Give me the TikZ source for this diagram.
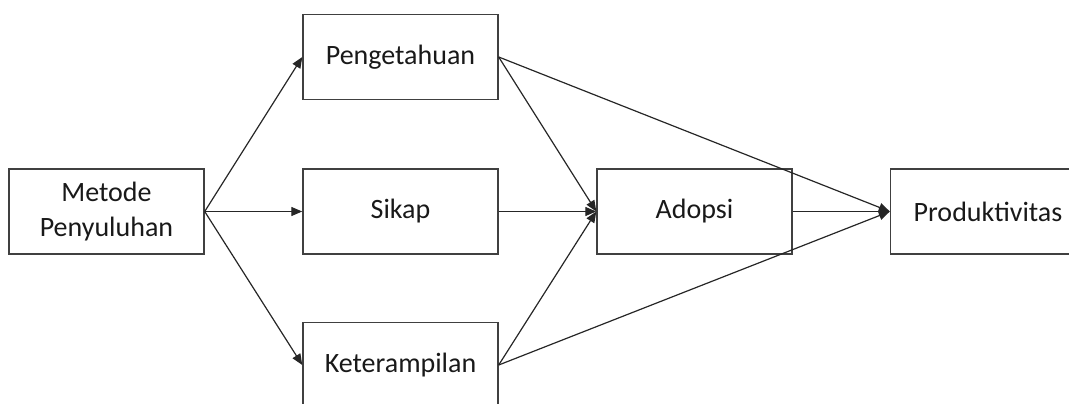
\documentclass[tikz,border=0pt]{standalone}
\usepackage{fontspec}
\setmainfont{Carlito}
\usetikzlibrary{arrows.meta}
\begin{document}
\begin{tikzpicture}[x=1pt,y=-1pt,
  box/.style={draw=black!75,line width=1.4pt,minimum width=195pt,minimum height=85pt,inner sep=0pt,align=center,font=\fontsize{28}{35}\selectfont,text=black!90},
  conn/.style={draw=black!85,line width=1.2pt,-{Triangle[length=11pt,width=9pt]}}]
\useasboundingbox (0,0) rectangle (1069,404);
\begin{scope}
\clip (0,0) rectangle (1069,404);
\node[box] (m) at (106.5,211.5) {Metode\\Penyuluhan};
\node[box] (p) at (400.5,57) {Pengetahuan};
\node[box] (s) at (400.5,211.5) {Sikap};
\node[box] (k) at (400.5,365) {Keterampilan};
\node[box] (a) at (694.5,211.5) {Adopsi};
\node[box] (r) at (988,211.5) {Produktivitas};
\draw[conn] (m.east) -- (p.west);
\draw[conn] (m.east) -- (s.west);
\draw[conn] (m.east) -- (k.west);
\draw[conn] (p.east) -- (a.west);
\draw[conn] (s.east) -- (a.west);
\draw[conn] (k.east) -- (a.west);
\draw[conn] (p.east) -- (r.west);
\draw[conn] (a.east) -- (r.west);
\draw[conn] (k.east) -- (r.west);
\end{scope}
\end{tikzpicture}
\end{document}
